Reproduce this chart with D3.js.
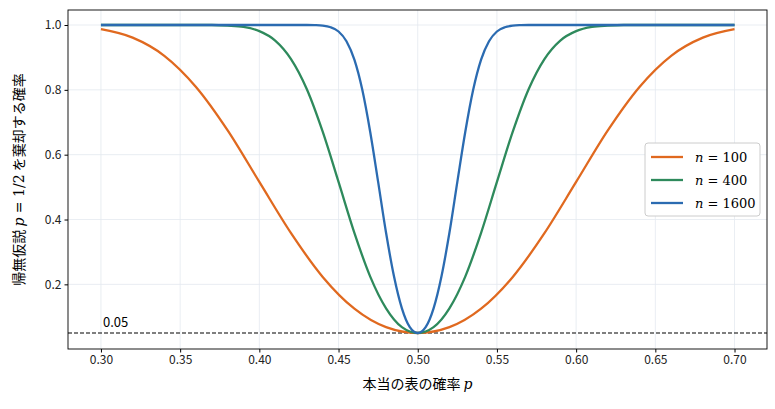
<!DOCTYPE html>
<html><head><meta charset="utf-8">
<script src="https://cdn.jsdelivr.net/npm/d3@7"></script>
<style>body{margin:0;background:#fff}text{font-family:"Noto Sans CJK JP","Noto Sans",sans-serif}</style>
</head><body><svg id="c" width="775" height="409"></svg>
<script>
const xTicks=[0.30,0.35,0.40,0.45,0.50,0.55,0.60,0.65,0.70];
const yTicks=[0.2,0.4,0.6,0.8,1.0];
const p100=[0.30,0.32,0.34,0.36,0.38,0.40,0.42,0.44,0.46,0.48,0.50,0.52,0.54,0.56,0.58,0.60,0.62,0.64,0.66,0.68,0.70];
const pow100=[0.987,0.961,0.905,0.809,0.675,0.516,0.358,0.223,0.125,0.068,0.05,0.068,0.125,0.223,0.358,0.516,0.675,0.809,0.905,0.961,0.987];
const p400=[0.30,0.34,0.37,0.38,0.39,0.40,0.41,0.42,0.43,0.44,0.45,0.46,0.47,0.48,0.49,0.50,0.51,0.52,0.53,0.54,0.55,0.56,0.57,0.58,0.59,0.60,0.61,0.62,0.63,0.66,0.70];
const pow400=[1,1,1,0.998,0.994,0.981,0.952,0.895,0.802,0.671,0.516,0.359,0.224,0.126,0.068,0.05,0.068,0.126,0.224,0.359,0.516,0.671,0.802,0.895,0.952,0.981,0.994,0.998,1,1,1];
const p1600=[0.30,0.40,0.43,0.435,0.44,0.445,0.45,0.455,0.46,0.465,0.47,0.475,0.48,0.485,0.49,0.495,0.50,0.505,0.51,0.515,0.52,0.525,0.53,0.535,0.54,0.545,0.55,0.555,0.56,0.565,0.57,0.60,0.70];
const pow1600=[1,1,1,0.9995,0.998,0.993,0.980,0.950,0.893,0.800,0.670,0.516,0.359,0.225,0.126,0.068,0.05,0.068,0.126,0.225,0.359,0.516,0.670,0.800,0.893,0.950,0.980,0.993,0.998,0.9995,1,1,1];
const series=[{n:"100",p:p100,v:pow100,c:"#e0691f"},{n:"400",p:p400,v:pow400,c:"#2e8a5c"},{n:"1600",p:p1600,v:pow1600,c:"#2b6bb1"}];
const L=68,R=767,T=10,B=349;
const svg=d3.select("#c");
const x=d3.scaleLinear().domain([0.2792,0.7205]).range([L,R]);
const y=d3.scaleLinear().domain([0.0006,1.0463]).range([B,T]);
const g=svg.append("g");
g.selectAll(".gx").data(xTicks).join("line").attr("x1",d=>x(d)).attr("x2",d=>x(d)).attr("y1",T).attr("y2",B).attr("stroke","#e3e8ef").attr("stroke-width",0.8);
g.selectAll(".gy").data(yTicks).join("line").attr("y1",d=>y(d)).attr("y2",d=>y(d)).attr("x1",L).attr("x2",R).attr("stroke","#e3e8ef").attr("stroke-width",0.8);
svg.append("line").attr("x1",L).attr("x2",R).attr("y1",y(0.05)).attr("y2",y(0.05)).attr("stroke","#000").attr("stroke-width",1.1).attr("stroke-dasharray","4,2");
svg.append("text").attr("x",x(0.3)+2).attr("y",y(0.05)-6).attr("font-size",13).text("0.05");
const line=d3.line().curve(d3.curveMonotoneX);
series.forEach(s=>{svg.append("path").attr("d",line(s.p.map((p,i)=>[x(p),y(s.v[i])]))).attr("fill","none").attr("stroke",s.c).attr("stroke-width",2.3);});
svg.append("g").attr("transform",`translate(0,${B})`).call(d3.axisBottom(x).tickValues(xTicks).tickFormat(d3.format(".2f")).tickSize(3.5)).call(a=>a.selectAll("text").attr("font-size",12).attr("fill","#222"));
svg.append("g").attr("transform",`translate(${L},0)`).call(d3.axisLeft(y).tickValues(yTicks).tickFormat(d3.format(".1f")).tickSize(3.5)).call(a=>a.selectAll("text").attr("font-size",12).attr("fill","#222"));
svg.selectAll(".domain").remove();
svg.append("rect").attr("x",L).attr("y",T).attr("width",R-L).attr("height",B-T).attr("fill","none").attr("stroke","#000").attr("stroke-width",0.9);
const xl=svg.append("text").attr("x",(L+R)/2).attr("y",389).attr("text-anchor","middle").attr("font-size",14);
xl.append("tspan").text("本当の表の確率 ");xl.append("tspan").attr("font-family","DejaVu Serif").attr("font-style","italic").text("p");
const yl=svg.append("text").attr("transform",`translate(24,${(T+B)/2}) rotate(-90)`).attr("text-anchor","middle").attr("font-size",14);
yl.append("tspan").text("帰無仮説 ");yl.append("tspan").attr("font-family","DejaVu Serif").attr("font-style","italic").text("p");
yl.append("tspan").attr("font-family","DejaVu Serif").text(" = 1/2");yl.append("tspan").text(" を棄却する確率");
const lg=svg.append("g").attr("transform","translate(645,143)");
lg.append("rect").attr("width",115).attr("height",73).attr("rx",3).attr("fill","#fff").attr("stroke","#ccc");
series.forEach((s,i)=>{const yy=14+i*23;
lg.append("line").attr("x1",6).attr("x2",38).attr("y1",yy).attr("y2",yy).attr("stroke",s.c).attr("stroke-width",2.3);
const t=lg.append("text").attr("x",50).attr("y",yy+5).attr("font-size",13);
t.append("tspan").attr("font-family","DejaVu Serif").attr("font-style","italic").text("n");t.append("tspan").attr("font-family","DejaVu Serif").text(" = "+s.n);});
</script></body></html>
